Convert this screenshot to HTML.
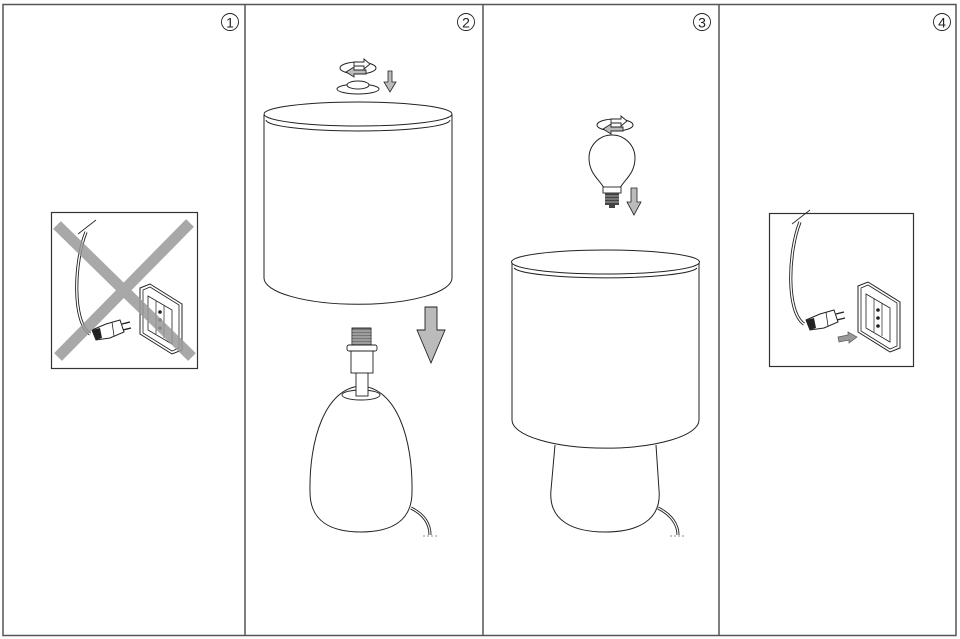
<!DOCTYPE html>
<html><head><meta charset="utf-8"><style>
html,body{margin:0;padding:0;background:#fff;}
svg{display:block;}
text{font-family:"Liberation Sans",sans-serif;}
</style></head><body>
<svg width="960" height="639" viewBox="0 0 960 639" xmlns="http://www.w3.org/2000/svg">
<defs>
<g id="rot">
  <ellipse cx="0" cy="0" rx="18" ry="6" fill="none" stroke="#222" stroke-width="1"/>
  <path d="M-4,-6 L6,-6 L6,-9 L12,-4 L6,1 L6,-2 L-4,-2Z" fill="#fff" stroke="#222" stroke-width="0.9"/>
  <path d="M8,2 L-4,2 L-4,-1 L-12,4 L-4,9 L-4,6 L8,6Z" fill="#bbb" stroke="#222" stroke-width="0.9"/>
</g>
<g id="plug">
  <path d="M28,32 C10,20 12,-40 24,-70" fill="none" stroke="#222" stroke-width="3.2"/>
  <path d="M28,32 C10,20 12,-40 24,-70" fill="none" stroke="#fff" stroke-width="1.4"/>
  <path d="M16,-68 L34,-82" stroke="#222" stroke-width="0.8"/>
  <path d="M30,28 L44,22 L58,18 L62,30 L48,36 L34,38Z" fill="#fff" stroke="#222" stroke-width="1"/>
  <path d="M30,28 L38,26 L40,36 L34,38Z" fill="#222"/>
  <path d="M50,20 L52,34" stroke="#222" stroke-width="0.8"/>
  <path d="M60,22 L68,20 M61,28 L69,26" stroke="#222" stroke-width="1.4"/>
</g>
<g id="socket">
  <path d="M0,0 L10,-4 L42,16 L42,62 L32,66 L0,46Z" fill="#fff" stroke="#222" stroke-width="1"/>
  <path d="M3,2 L10,-1 L39,17 L39,60 L32,63 L3,45Z" fill="none" stroke="#222" stroke-width="0.8"/>
  <path d="M8,8 L32,22 L32,56 L8,42Z" fill="none" stroke="#222" stroke-width="0.8"/>
  <path d="M16,13 L16,46 M24,17 L24,50" stroke="#222" stroke-width="0.7"/>
  <circle cx="20" cy="24" r="1.8" fill="#222"/><circle cx="20" cy="32" r="1.8" fill="#222"/><circle cx="20" cy="40" r="1.8" fill="#222"/>
</g>
</defs>

<rect x="3" y="4.5" width="953" height="631" fill="none" stroke="#555" stroke-width="1.5"/>
<line x1="245" y1="4" x2="245" y2="636" stroke="#555" stroke-width="1.5"/>
<line x1="483" y1="4" x2="483" y2="636" stroke="#555" stroke-width="1.5"/>
<line x1="719" y1="4" x2="719" y2="636" stroke="#555" stroke-width="1.5"/>

<g fill="#222" text-anchor="middle">
<circle cx="230" cy="22" r="8.5" fill="none" stroke="#222" stroke-width="0.9"/><text x="230" y="27.5" font-size="14">1</text>
<circle cx="466" cy="22" r="8.5" fill="none" stroke="#222" stroke-width="0.9"/><text x="466" y="27.5" font-size="14">2</text>
<circle cx="702" cy="22" r="8.5" fill="none" stroke="#222" stroke-width="0.9"/><text x="702" y="27.5" font-size="14">3</text>
<circle cx="942" cy="22" r="8.5" fill="none" stroke="#222" stroke-width="0.9"/><text x="942" y="27.5" font-size="14">4</text>
</g>

<!-- Panel 1 -->
<rect x="51.5" y="212.5" width="146" height="156" fill="#fff" stroke="#333" stroke-width="1.2"/>
<use href="#plug" x="62" y="302"/>
<use href="#socket" x="140" y="288"/>
<g stroke="#999" stroke-width="11" opacity="0.85">
<line x1="57" y1="225" x2="192" y2="357"/>
<line x1="190" y1="223" x2="58" y2="357"/>
</g>

<!-- Panel 2 -->
<use href="#rot" x="358" y="68"/>
<ellipse cx="358" cy="89" rx="21" ry="5" fill="#fff" stroke="#222" stroke-width="1"/>
<ellipse cx="358" cy="85" rx="11" ry="4" fill="#fff" stroke="#222" stroke-width="1"/>
<path d="M388,71 L392,71 L392,82 L396,82 L390,92 L384,82 L388,82Z" fill="#bbb" stroke="#222" stroke-width="0.8"/>
<path d="M264,115 L264,278 A93,26 0 0 0 452,278 L452,115" fill="#fff" stroke="#222" stroke-width="1"/>
<ellipse cx="358" cy="114" rx="94" ry="12" fill="#fff" stroke="#222" stroke-width="1"/>
<path d="M266,120 A92,11 0 0 0 450,120" fill="none" stroke="#222" stroke-width="1"/>
<path d="M425,307 L437,307 L437,330 L445,330 L431,363 L417,330 L425,330Z" fill="#bbb" stroke="#222" stroke-width="0.9"/>
<path d="M310,492 C309,440 325,388 361,386 C397,388 413,440 412,492 C412,522 390,532 361,532 C332,532 310,522 310,492Z" fill="#fff" stroke="#222" stroke-width="1"/>
<ellipse cx="361" cy="395" rx="19" ry="5" fill="#fff" stroke="#222" stroke-width="0.9"/>
<rect x="356" y="372" width="12" height="24" fill="#fff" stroke="#222" stroke-width="0.9"/>
<rect x="351" y="350" width="22" height="23" fill="#fff" stroke="#222" stroke-width="0.9"/>
<rect x="347" y="345" width="30" height="6" rx="2" fill="#fff" stroke="#222" stroke-width="0.9"/>
<rect x="352" y="328" width="19" height="17" fill="#777" stroke="#222" stroke-width="0.9"/>
<path d="M352,331 H371 M352,334 H371 M352,337 H371 M352,340 H371 M352,343 H371" stroke="#ddd" stroke-width="0.8"/>
<path d="M411,508 C425,515 430,525 430,535" fill="none" stroke="#222" stroke-width="3"/>
<path d="M411,508 C425,515 430,525 430,535" fill="none" stroke="#fff" stroke-width="1.2"/>
<path d="M423,536 H437" stroke="#222" stroke-width="0.6" stroke-dasharray="2,2"/>

<!-- Panel 3 -->
<use href="#rot" x="615" y="125"/>
<path d="M604,188 C600,180 589,174 589,158 A23,23 0 1 1 635,158 C635,174 624,180 620,188Z" fill="#fff" stroke="#222" stroke-width="1"/>
<rect x="603" y="187" width="18" height="6" fill="#fff" stroke="#222" stroke-width="0.9"/>
<rect x="605" y="193" width="14" height="12" fill="#444"/>
<path d="M605,196 H619 M605,199 H619 M605,202 H619" stroke="#ccc" stroke-width="0.8"/>
<rect x="609" y="205" width="6" height="3" fill="#444"/>
<path d="M631,188 L637,188 L637,202 L641,202 L634,215 L627,202 L631,202Z" fill="#bbb" stroke="#222" stroke-width="0.8"/>
<path d="M555,445 L551,490 C548,522 575,532 605,532 C635,532 662,522 659,490 L656,445" fill="#fff" stroke="#222" stroke-width="1"/>
<path d="M658,508 C672,515 678,525 678,535" fill="none" stroke="#222" stroke-width="3"/>
<path d="M658,508 C672,515 678,525 678,535" fill="none" stroke="#fff" stroke-width="1.2"/>
<path d="M670,536 H685" stroke="#222" stroke-width="0.6" stroke-dasharray="2,2"/>
<path d="M512,263 L512,420 A93,28 0 0 0 699,420 L699,263" fill="#fff" stroke="#222" stroke-width="1"/>
<ellipse cx="605.5" cy="262" rx="94" ry="12" fill="#fff" stroke="#222" stroke-width="1"/>
<path d="M514,268 A92,11 0 0 0 697,268" fill="none" stroke="#222" stroke-width="1"/>

<!-- Panel 4 -->
<rect x="769.5" y="213.5" width="144" height="153" fill="#fff" stroke="#333" stroke-width="1.2"/>
<use href="#plug" x="776" y="292"/>
<use href="#socket" x="858" y="286"/>
<path d="M838,337 L848,335 L848,332 L857,337 L849,343 L849,340 L839,342Z" fill="#999" stroke="#555" stroke-width="0.7"/>
</svg>
</body></html>
